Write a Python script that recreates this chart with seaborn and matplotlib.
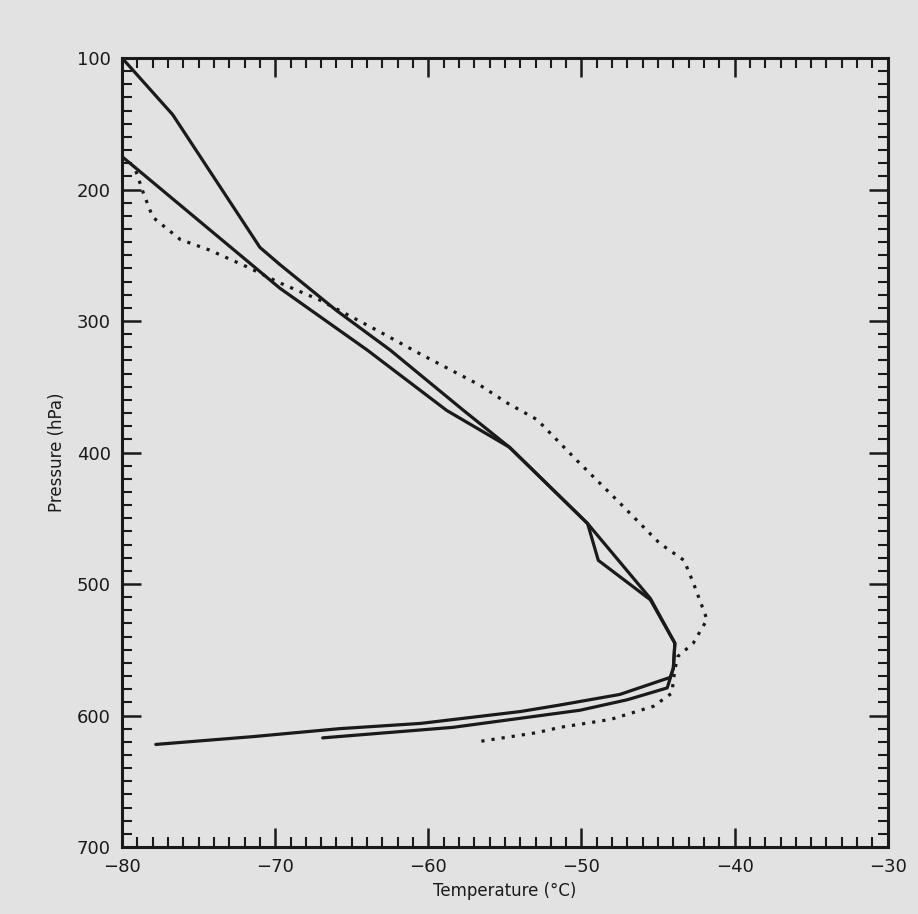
import numpy as np
import pandas as pd
import seaborn as sns
import matplotlib.pyplot as plt
from matplotlib.ticker import MultipleLocator

# Profile values (temperature in C, pressure in hPa)
temp_a = [-80.0, -76.7, -71.0, -69.7, -66.0, -62.5, -57.7, -54.7, -49.6, -45.5,
          -43.9, -44.0, -44.2, -47.5, -51.4, -54.0, -60.5, -65.8, -71.4, -77.8]
pres_a = [100, 143, 244, 257, 292, 322, 368, 396, 454, 511,
          545, 564, 571, 584, 592, 597, 606, 610, 616, 622]

temp_b = [-80.0, -69.7, -64.0, -58.8, -54.7, -49.6, -48.9, -45.5, -43.9, -44.0,
          -44.4, -47.0, -50.1, -58.4, -66.9]
pres_b = [175, 275, 322, 368, 396, 454, 482, 512, 545, 564,
          579, 588, 596, 609, 617]

temp_c = [-79.1, -78.6, -78.0, -76.2, -74.3, -71.8, -69.7, -67.1, -63.2, -60.7,
          -56.6, -54.9, -52.9, -50.3, -47.7, -44.9, -43.3, -42.7, -41.8, -42.7,
          -43.7, -43.9, -44.1, -45.3, -48.1, -51.4, -52.9, -56.8]
pres_c = [186, 203, 221, 238, 246, 259, 271, 284, 308, 324,
          349, 362, 375, 406, 436, 469, 482, 499, 527, 545,
          555, 565, 583, 593, 603, 609, 613, 620]

x_ticks = [-80, -70, -60, -50, -40, -30]
y_ticks = [100, 200, 300, 400, 500, 600, 700]

sns.set_theme(style="ticks")
plt.rcParams['font.family'] = ['DejaVu Sans']

bg = '#e2e2e2'
fig = plt.figure(figsize=(9.18, 9.14), dpi=100, facecolor=bg)
ax = fig.add_axes([0.133, 0.0733, 0.834, 0.8632], facecolor=bg)

df_a = pd.DataFrame({'T': temp_a, 'P': pres_a})
df_b = pd.DataFrame({'T': temp_b, 'P': pres_b})
df_c = pd.DataFrame({'T': temp_c, 'P': pres_c})

sns.lineplot(data=df_a, x='T', y='P', sort=False, estimator=None, ax=ax,
             color='#1a1a1a', lw=2.3)
sns.lineplot(data=df_b, x='T', y='P', sort=False, estimator=None, ax=ax,
             color='#1a1a1a', lw=2.3)
sns.lineplot(data=df_c, x='T', y='P', sort=False, estimator=None, ax=ax,
             color='#1a1a1a', lw=2.3, linestyle=(0, (1, 2.2)))

ax.set_xlim(-80, -30)
ax.set_ylim(700, 100)
ax.set_xticks(x_ticks)
ax.set_yticks(y_ticks)
ax.set_xticklabels([str(v).replace('-', '\u2212') for v in x_ticks])
ax.xaxis.set_minor_locator(MultipleLocator(1))
ax.yaxis.set_minor_locator(MultipleLocator(10))

ax.tick_params(which='both', direction='in', top=True, right=True,
               color='#1a1a1a', labelsize=13, labelcolor='#1a1a1a')
ax.tick_params(which='major', length=14, width=1.8, pad=8)
ax.tick_params(which='minor', length=7, width=1.5)
for s in ax.spines.values():
    s.set_linewidth(2.2)
    s.set_color('#1a1a1a')

ax.set_xlabel('Temperature (\u00b0C)', fontsize=12, color='#1a1a1a', labelpad=4)
ax.set_ylabel('Pressure (hPa)', fontsize=12, color='#1a1a1a', labelpad=8)

fig.savefig('out.png', dpi=100, facecolor=bg)
